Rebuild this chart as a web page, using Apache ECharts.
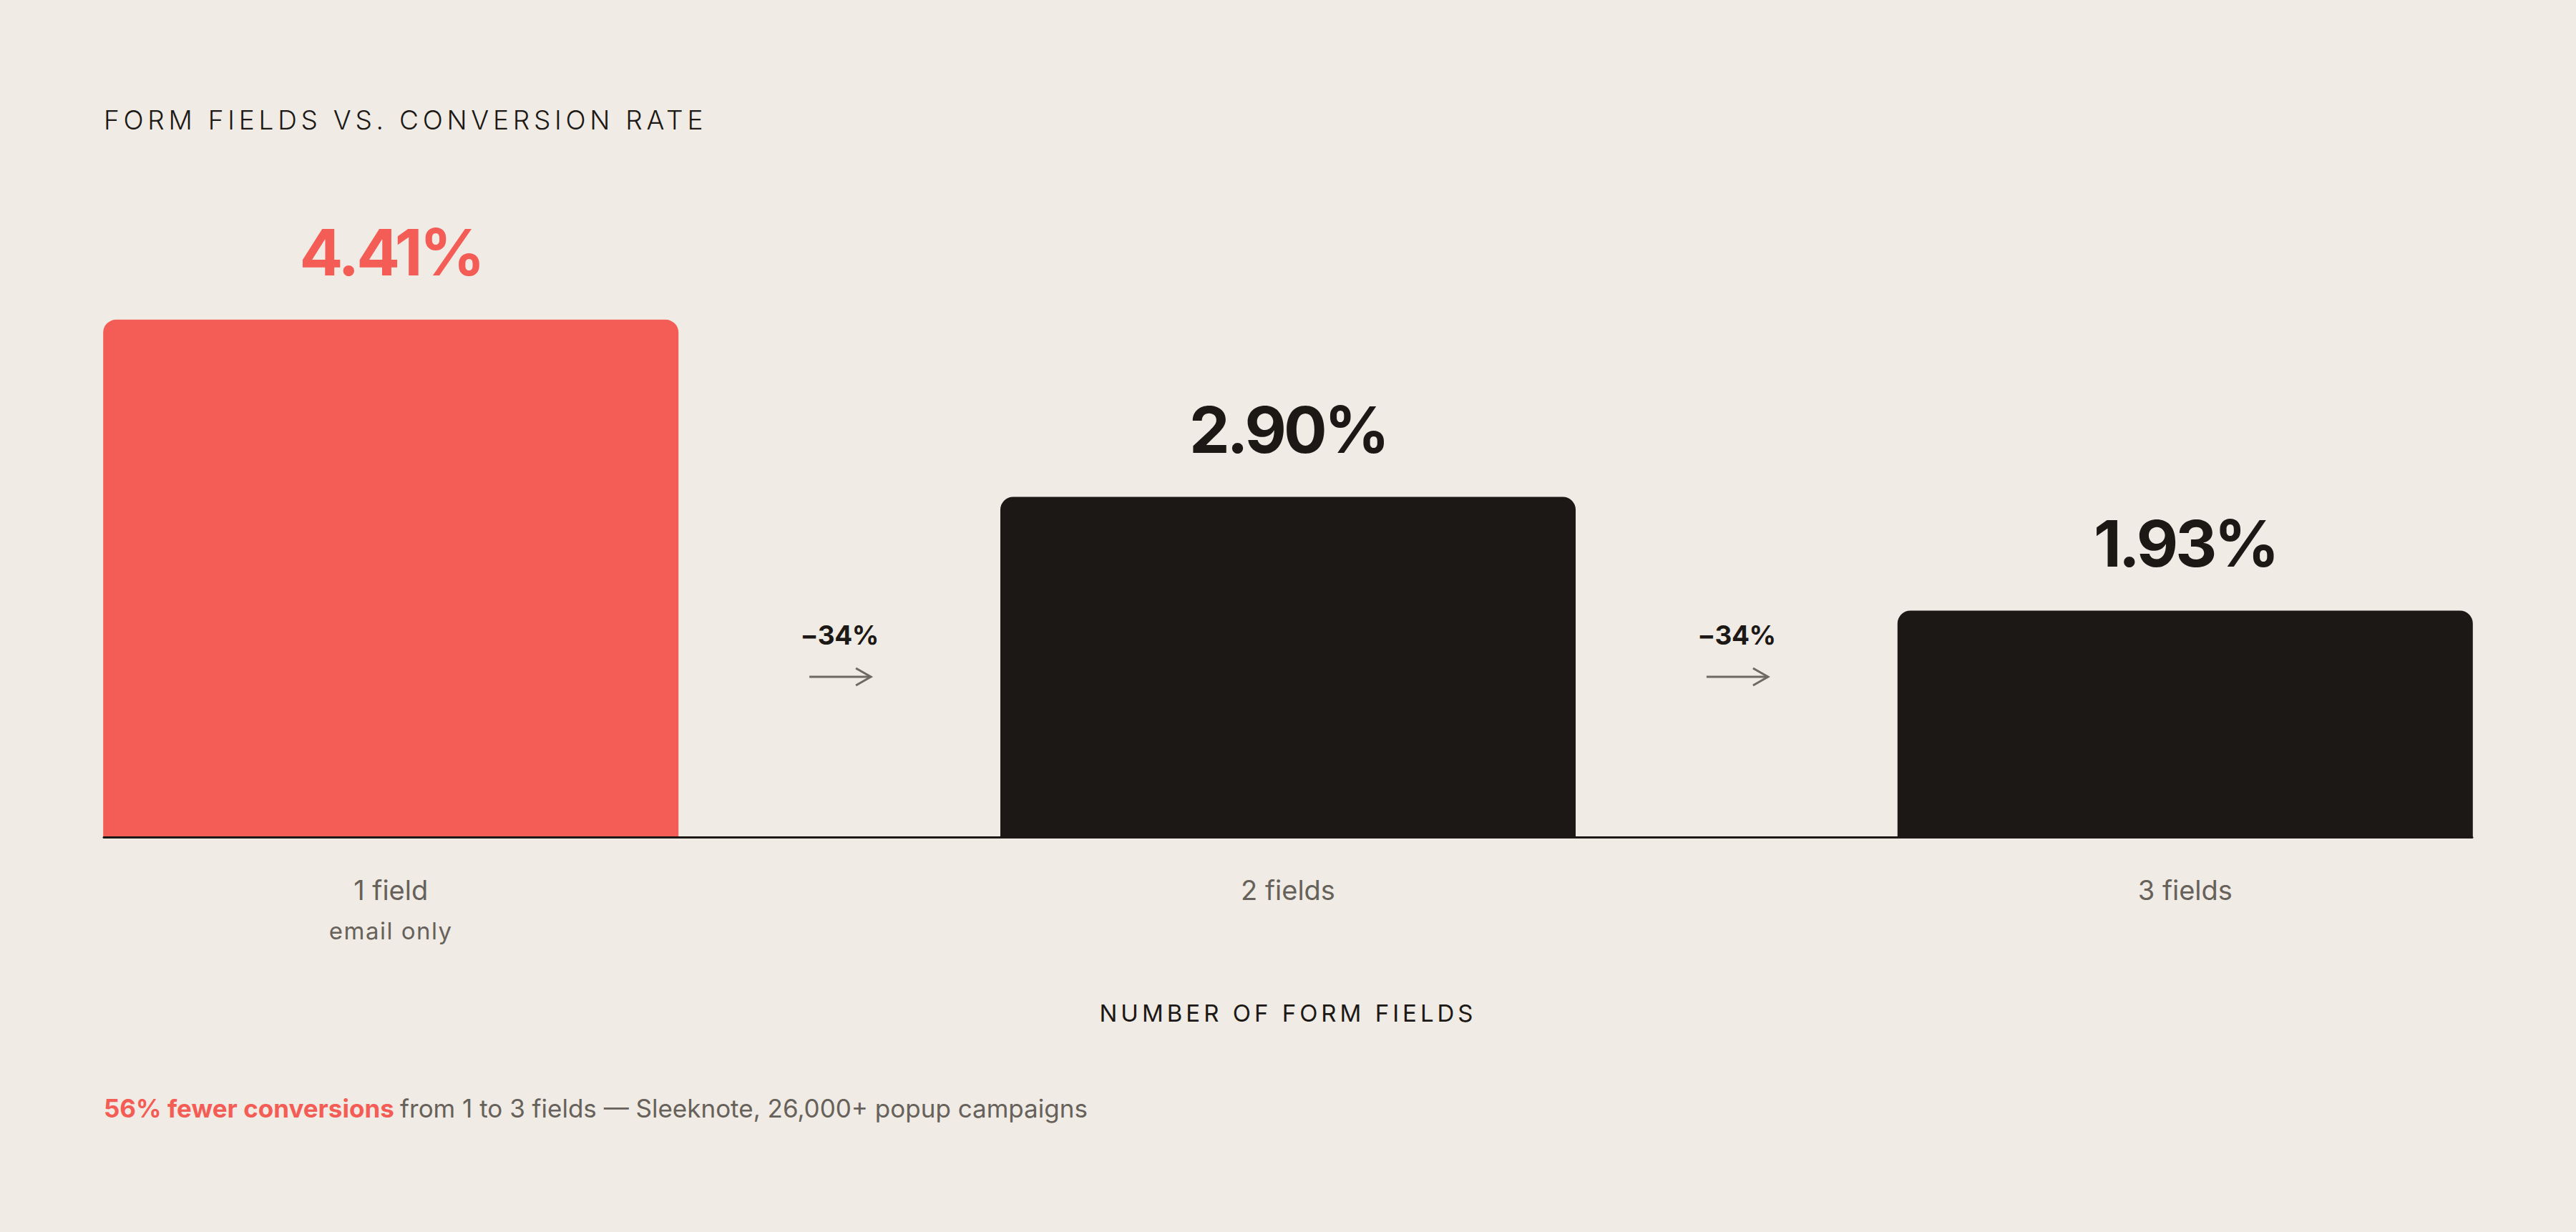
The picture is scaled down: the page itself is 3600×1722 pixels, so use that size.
<!DOCTYPE html>
<html>
<head>
<meta charset="utf-8">
<script src="https://cdn.jsdelivr.net/npm/echarts@6/dist/echarts.min.js"></script>
<style>
  html, body { margin: 0; padding: 0; background: #F0EBE4; }
  #c { width: 3600px; height: 1722px; }
  #c text { font-variant-numeric: proportional-nums; }
</style>
</head>
<body>
<div id="c"></div>
<script>
// ---- data ----
const categories = ['1 field', '2 fields', '3 fields'];
const categoryNotes = ['email only', '', ''];
const conversionRates = [4.41, 2.90, 1.93];
const changeLabels = ['\u221234%', '\u221234%'];
const titleText = 'FORM FIELDS VS. CONVERSION RATE';
const axisTitle = 'NUMBER OF FORM FIELDS';
const footnoteBold = '56% fewer conversions';
const footnoteRest = 'from 1 to 3 fields \u2014 Sleeknote, 26,000+ popup campaigns';
const highlightIndex = 0;

// ---- styles ----
const RED = '#F35D55', DARK = '#1C1815', GRAY = '#66615A', ARROW = '#6E6962', BG = '#F0EBE4';
const FONT = 'Inter, "Noto Sans", sans-serif';

const chart = echarts.init(document.getElementById('c'), null, { renderer: 'svg', width: 3600, height: 1722 });

const valueText = (v) => v.toFixed(2) + '%';
const barData = conversionRates.map((v, i) => ({
  value: [i, v],
  itemStyle: { color: i === highlightIndex ? RED : DARK },
  label: { color: i === highlightIndex ? RED : DARK }
}));
const changeData = changeLabels.map((t, i) => [i + 0.5, 0]);

const option = {
  backgroundColor: BG,
  animation: false,
  title: [
    {
      text: titleText,
      left: 145, top: 144, padding: 0,
      textStyle: { fontFamily: FONT, fontSize: 37, fontWeight: 300, color: DARK, lineHeight: 46 }
    },
    {
      text: '{b|' + footnoteBold + '} {r|' + footnoteRest + '}',
      left: 145, top: 1526, padding: 0,
      textStyle: {
        fontFamily: FONT, fontSize: 35, lineHeight: 46,
        rich: {
          b: { fontFamily: FONT, fontSize: 35, fontWeight: 700, color: RED, lineHeight: 46 },
          r: { fontFamily: FONT, fontSize: 35, fontWeight: 400, color: GRAY, lineHeight: 46 }
        }
      }
    }
  ],
  grid: { left: 145, right: 145, top: 350, bottom: 552, containLabel: false },
  xAxis: {
    type: 'value',
    min: -0.32, max: 2.32,
    z: 10,
    splitLine: { show: false },
    axisTick: { show: false },
    axisLine: { show: true, lineStyle: { color: DARK, width: 3 } },
    axisLabel: {
      customValues: [0, 1, 2],
      margin: 50,
      fontFamily: FONT, fontSize: 38, color: GRAY, lineHeight: 48,
      formatter: (v) => {
        const i = Math.round(v);
        return categoryNotes[i] ? categories[i] + '\n{note|' + categoryNotes[i] + '}' : categories[i];
      },
      rich: {
        note: { fontFamily: FONT, fontSize: 33, color: GRAY, lineHeight: 66 }
      }
    },
    name: axisTitle,
    nameLocation: 'middle',
    nameGap: 226,
    nameTextStyle: { fontFamily: FONT, fontSize: 33, color: DARK, fontWeight: 400, lineHeight: 40 }
  },
  yAxis: {
    type: 'value', min: 0, max: 5,
    show: false, splitLine: { show: false }
  },
  series: [
    {
      type: 'bar',
      data: barData,
      barWidth: 804,
      itemStyle: { borderRadius: [18, 18, 0, 0] },
      label: {
        show: true, position: 'top', distance: 49,
        fontFamily: FONT, fontSize: 90, fontWeight: 700, lineHeight: 90,
        formatter: (p) => valueText(p.value[1])
      }
    },
    {
      type: 'custom',
      data: changeData,
      clip: false,
      z: 5,
      renderItem: (params, api) => {
        const p = api.coord([api.value(0), 0]);
        const x = p[0], y0 = p[1];
        const ay = y0 - 224;
        return {
          type: 'group',
          children: [
            {
              type: 'text',
              style: {
                text: changeLabels[params.dataIndex],
                x: x, y: y0 - 283,
                align: 'center', verticalAlign: 'middle',
                fontFamily: FONT, fontSize: 37, fontWeight: 700,
                fill: DARK
              }
            },
            {
              type: 'polyline',
              shape: { points: [[x - 42, ay], [x + 44, ay]] },
              style: { stroke: ARROW, lineWidth: 3, fill: null }
            },
            {
              type: 'polyline',
              shape: { points: [[x + 23, ay - 12], [x + 44, ay], [x + 23, ay + 12]] },
              style: { stroke: ARROW, lineWidth: 3, fill: null }
            }
          ]
        };
      }
    }
  ]
};

chart.setOption(option);

const valueLabels = conversionRates.map(valueText);
function applySpacing() {
  document.querySelectorAll('#c text').forEach(t => {
    const s = t.textContent;
    if (s === titleText) t.setAttribute('letter-spacing', '5.75px');
    else if (s === axisTitle) t.setAttribute('letter-spacing', '5px');
    else if (changeLabels.indexOf(s) >= 0) t.setAttribute('letter-spacing', '-0.5px');
    else if (valueLabels.indexOf(s) >= 0) t.setAttribute('letter-spacing', '-4px');
    else if (categoryNotes.indexOf(s) >= 0 && s) t.setAttribute('letter-spacing', '1.5px');
  });
}
chart.on('finished', applySpacing);
applySpacing();
</script>
</body>
</html>
